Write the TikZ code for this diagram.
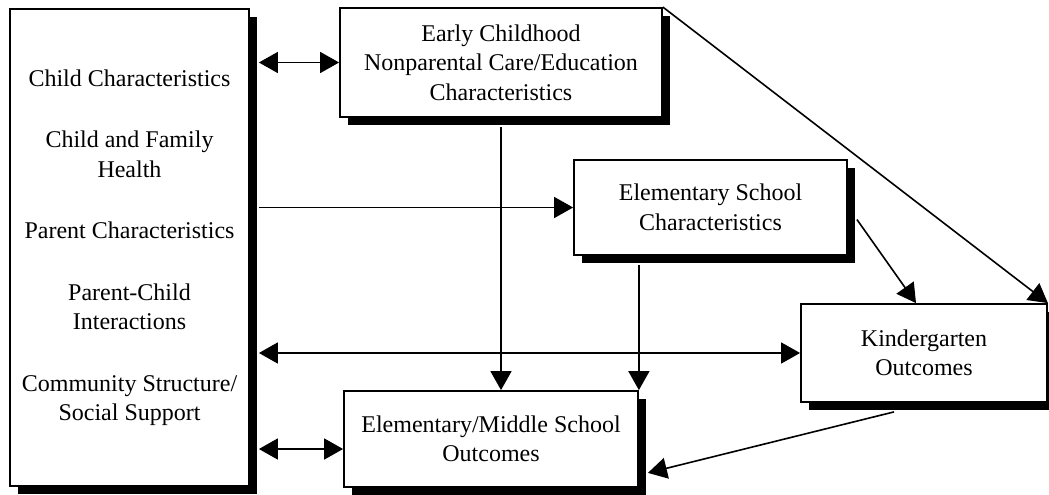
\documentclass[tikz,border=0pt]{standalone}
\usepackage{fontspec}
\setmainfont{Liberation Serif}
\usetikzlibrary{arrows.meta,calc,shadows}

\begin{document}
\begin{tikzpicture}[x=1pt,y=-1pt,
    box/.style={draw,line width=1.8pt,fill=white,align=center,
      font=\fontsize{24}{29.5}\selectfont,
      drop shadow={shadow xshift=8pt,shadow yshift=-8pt,fill=black,opacity=1}},
    link/.style={line width=1.6pt},
    >={Triangle[length=19pt,width=21pt]}]

  \useasboundingbox (0,0) rectangle (1049,495);

  \begin{scope}[every node/.style={box}]
    \node[minimum width=239pt,minimum height=477pt] (child) at (129.5,247.5)
      {Child Characteristics\\[32pt]Child and Family\\Health\\[32pt]Parent Characteristics\\[32pt]Parent-Child\\Interactions\\[32pt]Community Structure/\\Social Support};
    \node[minimum width=322pt,minimum height=109pt] (early) at (501,62.5)
      {Early Childhood\\Nonparental Care/Education\\Characteristics};
    \node[minimum width=273pt,minimum height=95pt] (elem) at (710.5,207.5)
      {Elementary School\\Characteristics};
    \node[minimum width=246pt,minimum height=98pt] (kinder) at (924,353)
      {Kindergarten\\Outcomes};
    \node[minimum width=294pt,minimum height=96pt] (middle) at (491,439)
      {Elementary/Middle School\\Outcomes};
  \end{scope}

  \draw[link,<->] ($(child.east |- early.west)+(9,0)$) -- (early.west);
  \draw[link,->] ($(child.east |- elem.west)+(9,0)$) -- (elem.west);
  \draw[link,<->] ($(child.east |- kinder.west)+(9,0)$) -- (kinder.west);
  \draw[link,<->] ($(child.east |- middle.west)+(9,10)$) -- ($(middle.west)+(0,10)$);
  \draw[link,->] ($(early.south)+(0,9)$) -- (early.south |- middle.north);
  \draw[link,->] (middle.north east |- elem.south) ++(0,9) -- (middle.north east);
  \draw[link,->] ($(elem.east)+(9,12)$) -- ($(kinder.north)+(-8,0)$);
  \draw[link,->] (early.north east) -- (kinder.north east);
  \draw[link,->] ($(kinder.south)+(-30,9)$) -- ($(middle.south east)+(9,-15)$);

\end{tikzpicture}
\end{document}
